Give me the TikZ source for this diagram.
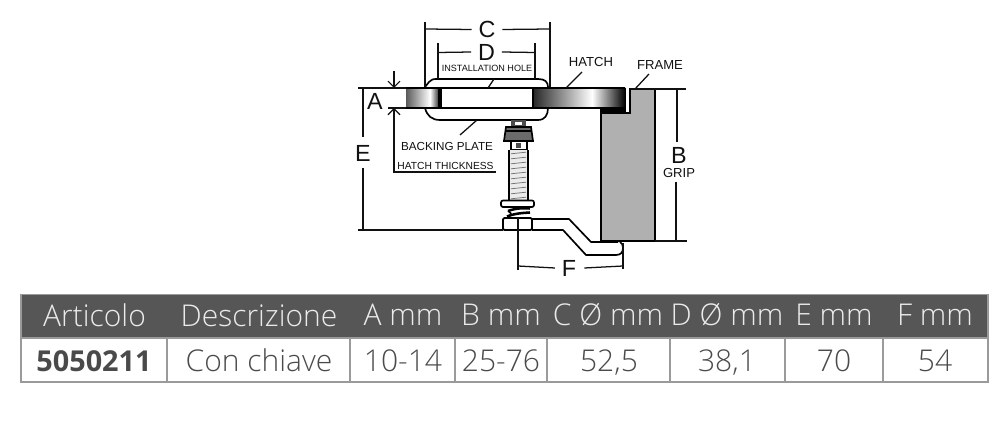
\documentclass[tikz,border=0pt]{standalone}
\usepackage{fontspec}
\setmainfont{Liberation Sans}
\newfontfamily\tablight{Open Sans Light}
\newfontfamily\tabreg{Open Sans}
\usetikzlibrary{arrows.meta}
\definecolor{hdr}{HTML}{565656}
\definecolor{rule}{HTML}{9A9A9A}
\definecolor{ink}{HTML}{111111}
\definecolor{framegray}{HTML}{B0B0B0}
\definecolor{cellink}{HTML}{4A4A4A}
\tikzset{
  dim/.style={draw=ink,line width=0.95pt},
  thin dim/.style={draw=ink,line width=0.85pt},
  outline/.style={draw=black,line width=1.25pt},
  biglabel/.style={font=\fontsize{17.5pt}{18pt}\selectfont,inner sep=0pt,text=ink},
  smalllabel/.style={font=\fontsize{6.8pt}{7pt}\selectfont,inner sep=0pt,text=ink},
  midlabel/.style={inner sep=0pt,text=ink},
  headtxt/.style={font=\tablight\fontsize{22.5pt}{23pt}\selectfont,text=white!92!black,inner sep=0pt,anchor=base},
  celltxt/.style={font=\tablight\fontsize{22.5pt}{23pt}\selectfont,text=cellink,inner sep=0pt,anchor=base},
  barb/.style={-{Straight Barb[length=4.5pt,width=9pt,line width=0.85pt]}},
}
\begin{document}
\begin{tikzpicture}[x=0.75pt,y=-0.75pt]
\useasboundingbox (0,0) rectangle (1000,441);
% ---------- table
\fill[hdr] (21,294.5) rectangle (988,338);
\draw[rule,line width=0.9pt] (21,294.5) rectangle (988,382);
\draw[rule,line width=0.9pt] (21,338) -- (988,338);
\foreach \cx in {167,350,455,547,670,785,883}{\draw[rule,line width=0.9pt] (\cx,338) -- (\cx,382);}
\node[headtxt] (h1) at (94.5,327) {Articolo};
\node[headtxt] (h2) at (259,327) {Descrizione};
\node[headtxt] (h3) at (403,326) {A mm};
\node[headtxt] (h4) at (501,326) {B mm};
\node[headtxt] (h5) at (608,326) {C Ø mm};
\node[headtxt] (h6) at (727,326) {D Ø mm};
\node[headtxt] (h7) at (834,326) {E mm};
\node[headtxt] (h8) at (935,326) {F mm};
\node[celltxt,font=\tabreg\bfseries\fontsize{21.6pt}{22pt}\selectfont] (c1) at (94,372) {5050211};
\node[celltxt] (c2) at (259,372) {Con chiave};
\node[celltxt] (c3) at (403,372) {10-14};
\node[celltxt] (c4) at (501,372) {25-76};
\node[celltxt] (c5) at (609,372) {52,5};
\node[celltxt] (c6) at (727,372) {38,1};
\node[celltxt] (c7) at (834,372) {70};
\node[celltxt] (c8) at (935,372) {54};
% ---------- frame
\fill[framegray] (601,113) -- (630,113) -- (630,89) -- (655,89) -- (655,241) -- (601,241) -- cycle;
\fill[black] (601,108) rectangle (625,113);
\draw[outline] (625,88) -- (625,113) (601,113) -- (630,113) -- (630,89) -- (655,89) -- (655,241) (601,108) -- (601,241);
% ---------- hatch
\shade[left color=black!65,right color=white] (406,88) rectangle (430,108);
\shade[left color=white,right color=black] (430,88) rectangle (441,108);
\shade[left color=black!85,right color=white] (533,88) rectangle (592,108);
\shade[left color=white,right color=black] (592,88) rectangle (625,108);
\draw[outline] (406,88) -- (625,88) (406,108) -- (625,108);
\draw[outline] (533,88) -- (533,108);
\draw[line width=2.5pt,black] (440,88) -- (440,108);
% ---------- cap and backing plate
\draw[outline] (425,87) -- (429,82) .. controls (431,79.5) and (433,79) .. (437,79) -- (538,79) .. controls (545,79) and (548,82) .. (548,87);
\draw[outline] (425,108) .. controls (427,116) and (432,120) .. (440,120) -- (538,120) .. controls (545,120) and (548,115) .. (548,108);
% ---------- bolt
\fill[black!70] (511,120) rectangle (526,127);
\fill[white] (515,122) rectangle (522,125);
\draw[outline,fill=black!58] (506,127) -- (531,127) -- (533,141) -- (504,141) -- cycle;
\draw[line width=1.6pt,black] (503,141) -- (534,141) (505,131) -- (532,131);
\draw[outline] (511,141) rectangle (527,150);
\fill[black!70] (516,143) rectangle (521,148);
\fill[white!92!black] (509,150) rectangle (528,200);
\draw[outline] (509,150) -- (509,200) (528,150) -- (528,200);
\foreach \ty in {153,158,...,198}{\draw[black!55,line width=0.55pt] (511,\ty+0.8) -- (526,\ty-0.8);}
\draw[outline,rounded corners=1.5pt,fill=white] (501,200.5) rectangle (534,207);
\draw[line width=1.9pt,black] (508,211) .. controls (516,208) and (524,208) .. (530,208.5);
\draw[line width=1.9pt,black] (507,216.5) .. controls (516,213) and (524,213) .. (530,212.5);
\draw[line width=1.2pt,black] (508,211) .. controls (511,213) and (512,214) .. (510,216);
\draw[outline,fill=white,rounded corners=1pt] (503,218) rectangle (532,230);
\draw[thin dim] (518,218) -- (518,230);
% ---------- arm
\draw[outline,line join=round] (532,219) -- (569,219) -- (591,242) -- (618,242);
\draw[outline,line join=round] (532,230) -- (563,230) -- (586,255) -- (616,255) .. controls (621,255) and (623,252) .. (623,248) .. controls (623,245) and (622,243) .. (620,242);
% ---------- dimensions: C, D
\coordinate (Ctop) at (425,22);\coordinate (Cbot) at (425,87);
\coordinate (Rtop) at (550,22);\coordinate (Rbot) at (550,87);
\coordinate (Cl) at (425,29);\coordinate (Cr) at (550,29);
\node[biglabel] (C) at (487,29.5) {C};
\draw[dim] (Ctop) -- (Cbot) (Rtop) -- (Rbot);
\draw[dim] (Cl) -- ([xshift=-5pt]C.west) (Cr) -- ([xshift=5pt]C.east);
\coordinate (Dlt) at (438,43);\coordinate (Dlb) at (438,79);
\coordinate (Drt) at (535,43);\coordinate (Drb) at (535,79);
\coordinate (Dl) at (438,52.5);\coordinate (Dr) at (535,52.5);
\node[biglabel] (D) at (486.5,52) {D};
\draw[dim] (Dlt) -- (Dlb) (Drt) -- (Drb);
\draw[dim] (Dl) -- ([xshift=-5pt]D.west) (Dr) -- ([xshift=5pt]D.east);
\node[smalllabel] (inst) at (487,68) {INSTALLATION HOLE};
\coordinate (instA) at (494,79);\coordinate (instB) at (488,88);
\draw[dim] (instA) -- (instB);
% ---------- A, E
\coordinate (refL) at (358,88);\coordinate (refR) at (406,88);
\draw[dim] (refL) -- (refR);
\node[biglabel] (A) at (375,101) {A};
\coordinate (Aa) at (394,71);\coordinate (Ab) at (394,88);
\draw[dim,barb] (Aa) -- (Ab);
\coordinate (Ac) at (394,172);\coordinate (Ad) at (394,108);
\coordinate (Ae) at (496,172);
\coordinate (Af) at (406,108);\coordinate (Ag) at (388,108);
\draw[dim,barb] (Ae) -- (Ac) -- (Ad);
\draw[dim] (Ag) -- (Af);
\node[biglabel] (E) at (363,153) {E};
\coordinate (Etop) at (363,88);\coordinate (Ebot) at (363,230);
\draw[dim] (Etop) -- ([yshift=6pt]E.north) (Ebot) -- ([yshift=-5pt]E.south);
\coordinate (baseL) at (358,230);\coordinate (baseR) at (503,230);
\draw[dim] (baseL) -- (baseR);
\node[midlabel,font=\fontsize{8.75pt}{9pt}\selectfont] (bp) at (447,146) {BACKING PLATE};
\coordinate (bpA) at (460,135);\coordinate (bpB) at (477,120);
\draw[dim] (bpA) -- (bpB);
\node[midlabel,font=\fontsize{7.7pt}{8pt}\selectfont] (ht) at (445.5,165.5) {HATCH THICKNESS};
% ---------- hatch/frame labels
\node[midlabel,font=\fontsize{9.8pt}{10pt}\selectfont] (hatch) at (591,62) {HATCH};
\coordinate (hatA) at (582,72);\coordinate (hatB) at (566,88);
\draw[dim] (hatA) -- (hatB);
\node[midlabel,font=\fontsize{9.8pt}{10pt}\selectfont] (frame) at (660,65) {FRAME};
\coordinate (frA) at (649,74);\coordinate (frB) at (635,89);
\draw[dim] (frA) -- (frB);
% ---------- B
\coordinate (Btl) at (630,89);\coordinate (Btr) at (686,89);
\coordinate (Bbl) at (600,241);\coordinate (Bbr) at (687,241);
\draw[dim] (Btl) -- (Btr);
\draw[outline] (Bbl) -- (655,241);
\draw[dim] (655,241) -- (Bbr);
\node[biglabel] (B) at (679,155) {B};
\node[midlabel,font=\fontsize{9.8pt}{10pt}\selectfont] (grip) at (679,173) {GRIP};
\coordinate (Bt) at (677,89);\coordinate (Bb) at (676,241);
\draw[dim] (Bt) -- (677,142);
\draw[dim] (676,182) -- (Bb);
% ---------- F
\node[biglabel] (F) at (569,268) {F};
\coordinate (Fl) at (518,266);\coordinate (Fr) at (623,266);
\coordinate (Fa) at (518,230);\coordinate (Fb) at (518,270);
\coordinate (Fc) at (623,243);\coordinate (Fd) at (623,269);
\draw[thin dim] (Fa) -- (Fb) (Fc) -- (Fd);
\draw[dim] (Fl) -- ([xshift=-5pt]F.west) (Fr) -- ([xshift=6pt]F.east);
\end{tikzpicture}
\end{document}
